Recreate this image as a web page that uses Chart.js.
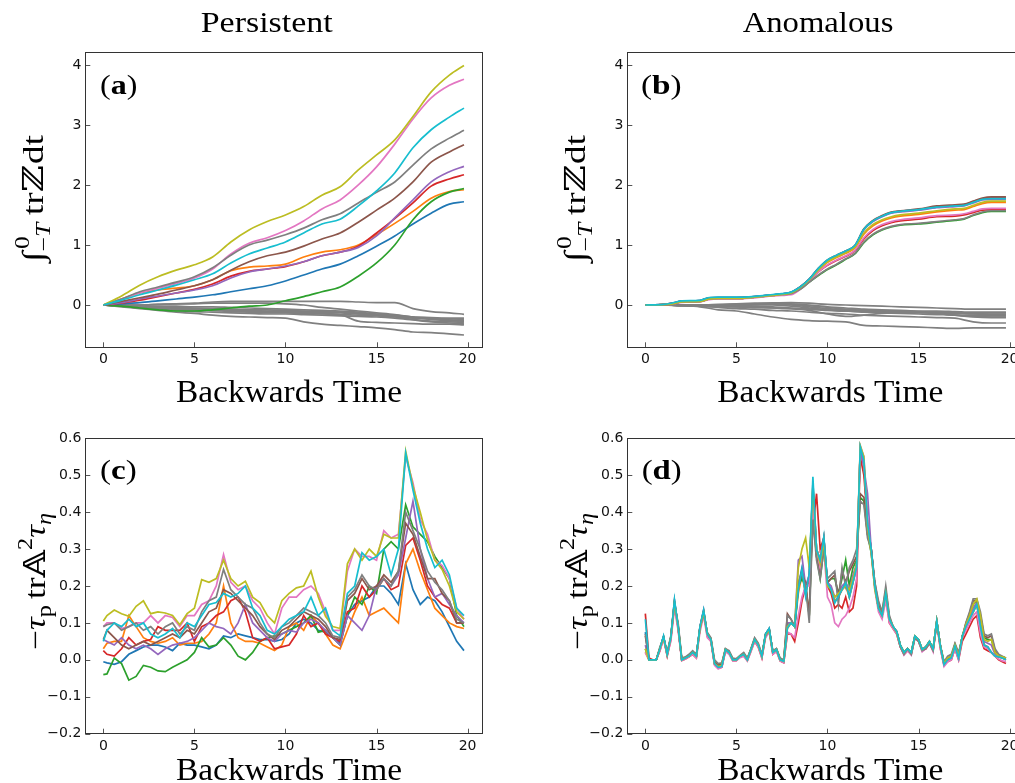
<!DOCTYPE html>
<html><head><meta charset="utf-8">
<script src="https://cdn.jsdelivr.net/npm/chart.js"></script>
<style>
html,body{margin:0;padding:0;background:#fff;overflow:hidden;width:1015px;height:783px;}
canvas{position:absolute;left:0;top:0;width:1040px;height:783px;}
</style></head><body>
<canvas id="ca" width="1040" height="783"></canvas>
<canvas id="cb" width="1040" height="783"></canvas>
<canvas id="cc" width="1040" height="783"></canvas>
<canvas id="cd" width="1040" height="783"></canvas>
<script>
// ---------- tick values / labels ----------
const xTickVals = [0,5,10,15,20];
const xTickLabels = ['0','5','10','15','20'];
const yTickValsAB = [0,1,2,3,4];
const yTickLabelsAB = ['0','1','2','3','4'];
const yTickValsCD = [-0.2,-0.1,0,0.1,0.2,0.3,0.4,0.5,0.6];
const yTickLabelsCD = ['\u22120.2','\u22120.1','0.0','0.1','0.2','0.3','0.4','0.5','0.6'];

// ---------- panel (a): time grid and series ----------
const xA = [0,1,2,3,4,5,6,7,8,9,10,11,12,13,14,15,16,17,18,19,19.8];
const blueA   = [0,0.02,0.04,0.07,0.1,0.13,0.17,0.22,0.27,0.32,0.4,0.5,0.6,0.68,0.82,0.98,1.15,1.35,1.53,1.68,1.72];
const orangeA = [0,0.1,0.2,0.25,0.28,0.32,0.42,0.57,0.63,0.65,0.68,0.8,0.88,0.92,1.0,1.17,1.36,1.56,1.78,1.89,1.92];
const greenA  = [0,-0.02,-0.05,-0.08,-0.1,-0.1,-0.08,-0.05,-0.02,0.0,0.07,0.14,0.22,0.3,0.48,0.7,1.0,1.42,1.72,1.88,1.94];
const redA    = [0,0.03,0.08,0.14,0.2,0.26,0.35,0.48,0.56,0.6,0.64,0.72,0.82,0.88,0.98,1.2,1.44,1.7,1.98,2.1,2.17];
const purpleA = [0,0.04,0.1,0.15,0.2,0.25,0.32,0.45,0.55,0.6,0.65,0.72,0.82,0.88,0.96,1.15,1.45,1.75,2.05,2.22,2.31];
const brownA  = [0,0.06,0.12,0.18,0.25,0.32,0.42,0.58,0.72,0.82,0.88,0.98,1.1,1.2,1.38,1.58,1.78,2.05,2.38,2.55,2.67];
const pinkA   = [0,0.1,0.2,0.28,0.36,0.45,0.6,0.85,1.03,1.12,1.24,1.4,1.6,1.75,2.0,2.3,2.68,3.1,3.45,3.66,3.76];
const grayA   = [0,0.1,0.22,0.3,0.38,0.47,0.62,0.83,1.0,1.08,1.17,1.28,1.42,1.52,1.7,1.88,2.05,2.33,2.6,2.78,2.91];
const oliveA  = [0,0.15,0.33,0.47,0.58,0.67,0.8,1.05,1.25,1.39,1.5,1.64,1.83,1.97,2.25,2.5,2.75,3.14,3.55,3.83,3.99];
const cyanA   = [0,0.08,0.17,0.25,0.33,0.42,0.52,0.7,0.85,0.95,1.05,1.2,1.35,1.43,1.65,1.9,2.2,2.62,2.92,3.13,3.28];
const greysA = [
 [0,0.0,0.0,0.01,0.02,0.03,0.05,0.06,0.06,0.06,0.06,0.06,0.06,0.06,0.05,0.04,0.04,-0.06,-0.11,-0.13,-0.155],
 [0,-0.03,-0.06,-0.09,-0.12,-0.14,-0.17,-0.19,-0.2,-0.21,-0.22,-0.28,-0.32,-0.34,-0.36,-0.38,-0.41,-0.45,-0.46,-0.48,-0.5],
 [0,-0.02,-0.04,-0.06,-0.07,-0.08,-0.09,-0.1,-0.11,-0.12,-0.12,-0.13,-0.14,-0.16,-0.27,-0.29,-0.3,-0.31,-0.32,-0.32,-0.33],
 [0,-0.01,-0.03,-0.04,-0.05,-0.06,-0.07,-0.08,-0.09,-0.1,-0.1,-0.11,-0.12,-0.12,-0.14,-0.16,-0.18,-0.2,-0.22,-0.23,-0.24],
 [0,-0.02,-0.04,-0.05,-0.07,-0.08,-0.09,-0.11,-0.12,-0.13,-0.13,-0.14,-0.15,-0.16,-0.17,-0.18,-0.2,-0.24,-0.27,-0.28,-0.29],
 [0,-0.01,-0.02,-0.03,-0.04,-0.05,-0.06,-0.07,-0.08,-0.08,-0.09,-0.1,-0.11,-0.12,-0.14,-0.16,-0.18,-0.21,-0.23,-0.25,-0.26],
 [0,-0.02,-0.05,-0.07,-0.09,-0.11,-0.12,-0.13,-0.14,-0.15,-0.15,-0.16,-0.17,-0.18,-0.19,-0.2,-0.22,-0.25,-0.28,-0.3,-0.31],
 [0,-0.01,-0.03,-0.05,-0.06,-0.07,-0.08,-0.09,-0.1,-0.11,-0.11,-0.12,-0.13,-0.13,-0.15,-0.17,-0.19,-0.22,-0.24,-0.26,-0.27],
 [0,0.0,-0.01,-0.02,-0.02,-0.03,-0.03,-0.04,-0.05,-0.06,-0.07,-0.08,-0.09,-0.1,-0.12,-0.15,-0.17,-0.2,-0.21,-0.22,-0.22],
 [0,0,0,0.01,0.02,0.02,0.03,0.03,0.03,0.03,0.02,0.0,-0.04,-0.07,-0.1,-0.13,-0.16,-0.2,-0.23,-0.25,-0.27]
];

// ---------- panel (b) ----------
const xB = [0,1,1.5,2,3,3.5,4,5,6,7,7.5,8,8.5,9,9.5,10,10.5,11,11.5,12,12.5,13,13.5,14,15,16,17,17.5,18,18.5,19,19.8];
const blueB   = [0,0.01,0.03,0.065,0.075,0.12,0.125,0.125,0.14,0.17,0.185,0.21,0.3,0.43,0.61,0.74,0.82,0.9,0.98,1.26,1.4,1.48,1.54,1.56,1.59,1.63,1.66,1.67,1.72,1.77,1.78,1.78];
const orangeB = [0,0.005,0.02,0.05,0.06,0.1,0.11,0.11,0.13,0.16,0.175,0.2,0.29,0.41,0.57,0.71,0.79,0.86,0.95,1.18,1.32,1.4,1.45,1.48,1.51,1.55,1.58,1.59,1.64,1.69,1.71,1.71];
const greenB  = [0,0.005,0.02,0.05,0.06,0.1,0.11,0.11,0.13,0.16,0.175,0.19,0.26,0.38,0.49,0.59,0.67,0.76,0.85,1.04,1.17,1.25,1.3,1.33,1.35,1.38,1.41,1.43,1.49,1.54,1.56,1.56];
const redB    = [0,0.005,0.02,0.05,0.06,0.1,0.11,0.11,0.13,0.16,0.175,0.19,0.27,0.4,0.55,0.66,0.74,0.81,0.9,1.1,1.24,1.32,1.37,1.4,1.43,1.47,1.48,1.5,1.54,1.58,1.59,1.59];
const purpleB = [0,0.01,0.03,0.065,0.075,0.12,0.125,0.125,0.14,0.17,0.185,0.21,0.3,0.43,0.6,0.74,0.82,0.89,0.98,1.25,1.39,1.47,1.53,1.55,1.58,1.62,1.64,1.65,1.7,1.75,1.76,1.76];
const brownB  = [0,0.01,0.03,0.065,0.075,0.12,0.125,0.125,0.14,0.17,0.185,0.21,0.3,0.43,0.61,0.75,0.83,0.9,0.99,1.27,1.41,1.49,1.55,1.57,1.6,1.65,1.67,1.68,1.73,1.78,1.8,1.8];
const pinkB   = [0,0.005,0.015,0.045,0.055,0.09,0.1,0.1,0.12,0.15,0.16,0.17,0.26,0.39,0.55,0.67,0.75,0.82,0.91,1.12,1.26,1.34,1.39,1.42,1.45,1.49,1.5,1.52,1.56,1.6,1.61,1.61];
const grayB   = [0,0.005,0.02,0.05,0.06,0.1,0.11,0.11,0.13,0.16,0.175,0.19,0.26,0.38,0.5,0.6,0.68,0.77,0.86,1.05,1.18,1.26,1.31,1.34,1.36,1.39,1.42,1.44,1.5,1.55,1.57,1.57];
const oliveB  = [0,0.005,0.02,0.05,0.06,0.1,0.11,0.11,0.13,0.16,0.175,0.2,0.29,0.42,0.58,0.72,0.8,0.87,0.96,1.2,1.34,1.42,1.47,1.5,1.53,1.57,1.6,1.61,1.66,1.71,1.73,1.73];
const cyanB   = [0,0.01,0.035,0.07,0.078,0.125,0.13,0.13,0.145,0.175,0.19,0.215,0.3,0.43,0.61,0.75,0.83,0.9,0.99,1.26,1.4,1.48,1.54,1.56,1.59,1.63,1.65,1.66,1.71,1.76,1.77,1.77];
const greysB = [
 [0,0,0,0,0.01,0.02,0.03,0.035,0.04,0.03,0.01,0.0,-0.01,-0.02,-0.03,-0.04,-0.05,-0.06,-0.07,-0.07,-0.07],
 [0,0,-0.01,-0.01,0.0,0.01,0.02,0.03,0.02,0.0,-0.03,-0.05,-0.07,-0.08,-0.09,-0.1,-0.1,-0.11,-0.12,-0.12,-0.12],
 [0,0,0,-0.01,-0.01,0.0,0.01,0.0,-0.02,-0.05,-0.08,-0.1,-0.1,-0.1,-0.11,-0.12,-0.13,-0.14,-0.15,-0.15,-0.15],
 [0,0,-0.01,-0.02,-0.02,-0.02,-0.02,-0.03,-0.05,-0.07,-0.09,-0.1,-0.11,-0.12,-0.12,-0.13,-0.14,-0.17,-0.18,-0.18,-0.18],
 [0,0,0,0,-0.01,-0.01,0.0,0.01,0.0,-0.03,-0.06,-0.08,-0.09,-0.1,-0.11,-0.12,-0.14,-0.17,-0.19,-0.2,-0.2],
 [0,0,-0.01,-0.02,-0.03,-0.03,-0.04,-0.05,-0.06,-0.09,-0.15,-0.19,-0.17,-0.14,-0.13,-0.12,-0.12,-0.13,-0.15,-0.16,-0.16],
 [0,0,-0.01,-0.02,-0.04,-0.06,-0.07,-0.09,-0.1,-0.12,-0.14,-0.15,-0.17,-0.18,-0.19,-0.2,-0.21,-0.22,-0.28,-0.3,-0.3],
 [0,0,-0.01,-0.03,-0.08,-0.1,-0.15,-0.2,-0.24,-0.26,-0.27,-0.28,-0.34,-0.35,-0.36,-0.37,-0.38,-0.39,-0.38,-0.38,-0.38],
 [0,0,0,-0.01,-0.02,-0.03,-0.04,-0.05,-0.06,-0.07,-0.08,-0.1,-0.12,-0.13,-0.14,-0.15,-0.16,-0.17,-0.2,-0.21,-0.21],
 [0,0,0,0,0.0,0.01,0.02,0.02,0.01,-0.01,-0.04,-0.07,-0.09,-0.1,-0.1,-0.11,-0.12,-0.12,-0.14,-0.13,-0.13]
];

// ---------- panel (c) ----------
const xC = [0,0.2,0.6,1.0,1.4,1.8,2.2,2.6,3.0,3.4,3.8,4.2,4.6,5.0,5.4,5.8,6.2,6.6,7.0,7.4,7.8,8.2,8.6,9.0,9.4,9.8,10.2,10.6,11.0,11.4,11.8,12.2,12.6,13.0,13.4,13.8,14.2,14.6,15.0,15.4,15.8,16.2,16.6,17.0,17.4,17.8,18.2,18.6,19.0,19.4,19.8];
const blueC   = [-0.005,-0.008,-0.012,-0.005,0.015,0.025,0.035,0.04,0.04,0.035, 0.025,0.045,0.04,0.04,0.035,0.03,0.04,0.065,0.06,0.07, 0.065,0.06,0.055,0.055,0.05,0.055,0.07,0.1,0.11,0.1, 0.08,0.075,0.06,0.045,0.12,0.15,0.16,0.17,0.2,0.2, 0.18,0.15,0.26,0.19,0.15,0.17,0.16,0.13,0.09,0.05, 0.025];
const orangeC = [0.03,0.045,0.05,0.05,0.12,0.09,0.06,0.05,0.045,0.05, 0.06,0.04,0.045,0.045,0.05,0.07,0.1,0.2,0.1,0.06, 0.05,0.05,0.045,0.035,0.025,0.04,0.09,0.1,0.08,0.12, 0.1,0.07,0.04,0.03,0.08,0.13,0.17,0.12,0.13,0.14, 0.12,0.1,0.26,0.3,0.24,0.19,0.14,0.12,0.1,0.09, 0.085];
const greenC  = [-0.04,-0.038,0.005,-0.01,-0.055,-0.045,-0.015,-0.02,-0.03,-0.032, -0.02,-0.01,0.0,0.02,0.06,0.035,0.04,0.06,0.04,0.01, 0.0,0.02,0.05,0.06,0.065,0.07,0.08,0.09,0.1,0.12, 0.075,0.08,0.06,0.04,0.12,0.17,0.15,0.2,0.18,0.3, 0.32,0.3,0.42,0.36,0.34,0.32,0.28,0.25,0.22,0.12, 0.09];
const redC    = [0.025,0.015,0.01,0.03,0.06,0.04,0.05,0.055,0.09,0.08, 0.08,0.08,0.1,0.05,0.09,0.1,0.12,0.13,0.16,0.17, 0.13,0.06,0.05,0.06,0.03,0.035,0.04,0.07,0.12,0.09, 0.1,0.07,0.06,0.05,0.13,0.14,0.2,0.17,0.19,0.22, 0.19,0.2,0.31,0.33,0.27,0.2,0.17,0.15,0.14,0.1, 0.1];
const purpleC = [0.055,0.05,0.04,0.06,0.04,0.03,0.04,0.03,0.015,0.03, 0.04,0.045,0.05,0.06,0.08,0.1,0.09,0.085,0.07,0.1, 0.15,0.1,0.08,0.06,0.05,0.07,0.08,0.075,0.1,0.11, 0.1,0.08,0.06,0.04,0.12,0.1,0.08,0.12,0.2,0.22, 0.2,0.23,0.33,0.43,0.3,0.22,0.17,0.18,0.15,0.12, 0.1];
const brownC  = [0.055,0.08,0.06,0.04,0.03,0.04,0.05,0.04,0.05,0.06, 0.07,0.06,0.08,0.07,0.1,0.13,0.14,0.19,0.18,0.16, 0.14,0.12,0.09,0.07,0.055,0.08,0.09,0.11,0.13,0.12, 0.11,0.09,0.06,0.055,0.16,0.18,0.22,0.19,0.2,0.23, 0.21,0.24,0.37,0.34,0.28,0.22,0.22,0.18,0.16,0.1, 0.1];
const pinkC   = [0.09,0.1,0.1,0.085,0.09,0.1,0.1,0.12,0.1,0.12, 0.115,0.09,0.12,0.12,0.15,0.16,0.2,0.285,0.21,0.19, 0.2,0.16,0.14,0.1,0.07,0.14,0.17,0.17,0.19,0.2, 0.18,0.13,0.08,0.08,0.24,0.3,0.28,0.28,0.27,0.35, 0.33,0.34,0.55,0.48,0.38,0.34,0.27,0.255,0.22,0.14, 0.11];
const grayC   = [0.09,0.095,0.1,0.08,0.09,0.1,0.08,0.09,0.07,0.09, 0.1,0.07,0.09,0.08,0.13,0.16,0.17,0.245,0.19,0.17, 0.15,0.14,0.1,0.07,0.06,0.09,0.1,0.12,0.14,0.13, 0.12,0.1,0.065,0.06,0.17,0.19,0.23,0.2,0.19,0.22, 0.2,0.24,0.4,0.35,0.3,0.24,0.21,0.19,0.16,0.11, 0.1];
const oliveC  = [0.105,0.12,0.135,0.125,0.118,0.145,0.16,0.125,0.13,0.127, 0.12,0.095,0.125,0.14,0.217,0.21,0.22,0.27,0.22,0.2, 0.213,0.17,0.155,0.12,0.1,0.16,0.18,0.195,0.2,0.24, 0.17,0.118,0.09,0.085,0.26,0.3,0.27,0.3,0.28,0.34, 0.33,0.33,0.565,0.47,0.4,0.325,0.27,0.245,0.2,0.13, 0.11];
const cyanC   = [0.05,0.08,0.1,0.09,0.11,0.09,0.1,0.07,0.06,0.07, 0.085,0.06,0.1,0.09,0.12,0.15,0.155,0.18,0.17,0.18, 0.2,0.14,0.12,0.08,0.07,0.09,0.11,0.12,0.13,0.17, 0.12,0.14,0.08,0.065,0.18,0.2,0.29,0.27,0.28,0.3, 0.23,0.3,0.56,0.46,0.37,0.3,0.25,0.27,0.23,0.14, 0.12];

// ---------- panel (d) ----------
const xD = [0,0.2,0.4,0.6,0.8,1,1.2,1.4,1.6,1.8,2,2.2,2.4,2.6,2.8,3,3.2,3.4,3.6,3.8,4,4.2,4.4,4.6,4.8,5,5.2,5.4,5.6,5.8,6,6.2,6.4,6.6,6.8,7,7.2,7.4,7.6,7.8,8,8.2,8.4,8.6,8.8,9,9.2,9.4,9.6,9.8,10,10.2,10.4,10.6,10.8,11,11.2,11.4,11.6,11.8,12,12.2,12.4,12.6,12.8,13,13.2,13.4,13.6,13.8,14,14.2,14.4,14.6,14.8,15,15.2,15.4,15.6,15.8,16,16.2,16.4,16.6,16.8,17,17.2,17.4,17.6,17.8,18,18.2,18.4,18.6,18.8,19,19.2,19.4,19.6,19.8];
const blueD = [0.075,0.0,0.0,0.0,0.03,0.063,0.015,0.06,0.16,0.09,
 0.0,0.005,0.01,0.02,0.01,0.088,0.133,0.07,0.055,-0.01,
 -0.02,-0.018,0.028,0.02,0.0,0.0,0.01,0.015,0.0,0.028,
 0.055,0.04,0.01,0.07,0.085,0.02,0.028,0.0,-0.004,0.09,
 0.1,0.09,0.2,0.25,0.18,0.23,0.48,0.3,0.27,0.33,
 0.21,0.19,0.16,0.17,0.19,0.21,0.17,0.21,0.25,0.57,
 0.53,0.37,0.3,0.2,0.14,0.12,0.18,0.11,0.09,0.077,
 0.04,0.02,0.03,0.02,0.064,0.055,0.028,0.035,0.05,0.03,
 0.105,0.037,-0.013,0.0,0.005,0.037,0.005,0.064,0.09,0.11,
 0.13,0.15,0.09,0.04,0.035,0.02,0.01,0.008,0.005,0.0];
const orangeD = [0.02,0.0,0.0,0.0,0.028,0.06,0.013,0.058,0.155,0.088,
 0.0,0.004,0.009,0.018,0.009,0.085,0.13,0.068,0.053,-0.012,
 -0.02,-0.017,0.026,0.019,0.0,0.0,0.009,0.014,0.0,0.026,
 0.053,0.038,0.009,0.068,0.083,0.019,0.027,0.0,-0.005,0.085,
 0.1,0.09,0.18,0.23,0.18,0.23,0.47,0.3,0.27,0.33,
 0.2,0.19,0.16,0.17,0.19,0.2,0.17,0.21,0.25,0.57,
 0.53,0.37,0.3,0.2,0.14,0.12,0.18,0.11,0.09,0.077,
 0.04,0.02,0.03,0.02,0.064,0.055,0.028,0.035,0.05,0.03,
 0.105,0.037,-0.012,0.0,0.005,0.037,0.005,0.064,0.09,0.11,
 0.13,0.15,0.09,0.04,0.035,0.02,0.01,0.008,0.005,0.0];
const greenD = [0.03,0.0,0.0,0.0,0.03,0.062,0.015,0.06,0.155,0.09,
 0.0,0.005,0.01,0.02,0.01,0.088,0.13,0.07,0.055,-0.008,
 -0.015,-0.012,0.028,0.02,0.002,0.002,0.01,0.015,0.002,0.028,
 0.055,0.04,0.01,0.07,0.085,0.02,0.028,0.0,0.0,0.1,
 0.1,0.09,0.2,0.22,0.2,0.12,0.4,0.28,0.22,0.3,
 0.21,0.22,0.22,0.18,0.22,0.27,0.2,0.25,0.27,0.44,
 0.43,0.34,0.29,0.2,0.14,0.12,0.18,0.11,0.09,0.075,
 0.04,0.02,0.03,0.02,0.064,0.055,0.028,0.035,0.05,0.03,
 0.105,0.037,-0.008,0.003,0.008,0.04,0.012,0.062,0.095,0.12,
 0.15,0.16,0.11,0.06,0.055,0.055,0.02,0.012,0.008,0.005];
const redD = [0.125,0.005,0.0,0.0,0.025,0.06,0.01,0.055,0.15,0.085,
 -0.002,0.002,0.008,0.015,0.005,0.085,0.13,0.065,0.05,-0.012,
 -0.022,-0.02,0.025,0.018,-0.002,-0.002,0.008,0.012,-0.002,0.025,
 0.05,0.035,0.005,0.065,0.08,0.015,0.025,-0.003,-0.008,0.07,
 0.07,0.05,0.1,0.16,0.2,0.21,0.36,0.45,0.3,0.33,
 0.2,0.18,0.14,0.15,0.14,0.17,0.13,0.14,0.2,0.55,
 0.5,0.37,0.3,0.2,0.14,0.12,0.17,0.1,0.085,0.07,
 0.035,0.015,0.025,0.015,0.06,0.05,0.025,0.03,0.045,0.025,
 0.1,0.03,-0.015,-0.005,0.0,0.03,0.0,0.05,0.07,0.09,
 0.11,0.12,0.06,0.03,0.025,0.02,0.01,0.0,-0.005,-0.01];
const purpleD = [0.04,0.0,0.0,0.0,0.03,0.062,0.015,0.062,0.16,0.09,
 0.0,0.005,0.01,0.02,0.01,0.09,0.135,0.07,0.055,-0.01,
 -0.02,-0.018,0.028,0.02,0.0,0.0,0.01,0.015,0.0,0.028,
 0.055,0.04,0.01,0.07,0.085,0.02,0.028,0.0,-0.004,0.1,
 0.1,0.09,0.27,0.28,0.2,0.23,0.45,0.3,0.27,0.33,
 0.21,0.2,0.17,0.18,0.2,0.21,0.19,0.23,0.26,0.57,
 0.52,0.45,0.3,0.2,0.14,0.12,0.18,0.11,0.09,0.077,
 0.04,0.02,0.03,0.02,0.064,0.055,0.028,0.035,0.05,0.03,
 0.105,0.037,-0.01,0.0,0.005,0.04,0.008,0.064,0.09,0.115,
 0.14,0.155,0.1,0.05,0.045,0.04,0.015,0.01,0.006,0.003];
const brownD = [0.065,0.0,0.0,0.0,0.032,0.062,0.018,0.062,0.155,0.095,
 0.003,0.006,0.012,0.022,0.012,0.088,0.13,0.072,0.058,-0.005,
 -0.015,-0.012,0.03,0.022,0.003,0.002,0.011,0.018,0.003,0.03,
 0.058,0.042,0.012,0.068,0.082,0.022,0.03,0.003,-0.002,0.125,
 0.11,0.09,0.2,0.23,0.21,0.12,0.42,0.28,0.23,0.31,
 0.21,0.22,0.23,0.17,0.24,0.21,0.24,0.26,0.28,0.45,
 0.44,0.34,0.3,0.21,0.15,0.13,0.19,0.115,0.09,0.075,
 0.037,0.017,0.03,0.017,0.062,0.052,0.026,0.032,0.047,0.027,
 0.102,0.038,-0.01,0.005,0.01,0.042,0.012,0.062,0.1,0.125,
 0.16,0.16,0.12,0.065,0.06,0.065,0.025,0.012,0.008,0.004];
const pinkD = [0.02,0.0,0.0,0.0,0.025,0.055,0.012,0.05,0.14,0.08,
 -0.002,0.002,0.008,0.015,0.005,0.075,0.12,0.06,0.05,-0.015,
 -0.025,-0.02,0.022,0.015,-0.003,-0.002,0.006,0.01,-0.003,0.022,
 0.05,0.035,0.005,0.06,0.075,0.015,0.022,-0.003,-0.008,0.075,
 0.07,0.06,0.12,0.17,0.2,0.2,0.42,0.3,0.25,0.3,
 0.17,0.15,0.1,0.09,0.11,0.12,0.14,0.17,0.22,0.58,
 0.55,0.37,0.29,0.19,0.13,0.11,0.16,0.1,0.085,0.07,
 0.035,0.013,0.025,0.013,0.058,0.05,0.022,0.03,0.045,0.022,
 0.1,0.03,-0.018,-0.005,0.0,0.03,0.0,0.06,0.08,0.1,
 0.12,0.13,0.07,0.035,0.03,0.02,0.01,0.002,-0.003,-0.005];
const grayD = [0.07,0.0,0.0,0.0,0.035,0.06,0.02,0.065,0.15,0.1,
 0.005,0.008,0.015,0.025,0.015,0.085,0.125,0.075,0.06,0.0,
 -0.01,-0.008,0.03,0.025,0.005,0.003,0.012,0.02,0.005,0.03,
 0.06,0.045,0.015,0.065,0.08,0.025,0.03,0.005,0.0,0.12,
 0.11,0.09,0.21,0.24,0.2,0.1,0.38,0.27,0.22,0.3,
 0.22,0.23,0.24,0.15,0.25,0.2,0.25,0.27,0.3,0.43,
 0.42,0.33,0.3,0.21,0.16,0.13,0.2,0.12,0.09,0.075,
 0.035,0.015,0.03,0.015,0.06,0.05,0.025,0.03,0.045,0.025,
 0.1,0.04,-0.005,0.01,0.015,0.045,0.02,0.06,0.1,0.13,
 0.165,0.165,0.13,0.07,0.065,0.07,0.03,0.015,0.01,0.005];
const oliveD = [0.03,0.0,0.0,0.0,0.03,0.06,0.015,0.06,0.155,0.09,
 0.0,0.005,0.01,0.02,0.01,0.085,0.13,0.07,0.055,-0.01,
 -0.018,-0.015,0.028,0.02,0.0,0.0,0.01,0.015,0.0,0.028,
 0.055,0.04,0.01,0.068,0.08,0.02,0.028,0.0,-0.004,0.09,
 0.1,0.09,0.25,0.3,0.33,0.25,0.47,0.3,0.26,0.32,
 0.2,0.19,0.17,0.18,0.19,0.2,0.19,0.22,0.26,0.58,
 0.55,0.36,0.29,0.19,0.14,0.12,0.18,0.11,0.09,0.075,
 0.04,0.02,0.03,0.02,0.064,0.055,0.028,0.035,0.05,0.03,
 0.105,0.037,-0.01,0.005,0.01,0.04,0.01,0.064,0.095,0.12,
 0.15,0.165,0.12,0.055,0.05,0.055,0.02,0.01,0.008,0.005];
const cyanD = [0.11,0.0,0.0,0.0,0.03,0.065,0.015,0.06,0.163,0.09,
 0.0,0.005,0.01,0.02,0.01,0.09,0.135,0.07,0.055,-0.01,
 -0.02,-0.018,0.028,0.02,0.0,0.0,0.01,0.015,0.0,0.028,
 0.055,0.04,0.01,0.07,0.085,0.02,0.028,0.0,-0.004,0.086,
 0.1,0.09,0.19,0.244,0.172,0.235,0.496,0.298,0.27,0.334,
 0.208,0.19,0.154,0.172,0.19,0.208,0.17,0.21,0.25,0.577,
 0.54,0.37,0.3,0.2,0.14,0.12,0.18,0.11,0.09,0.077,
 0.04,0.02,0.03,0.02,0.064,0.055,0.028,0.035,0.05,0.03,
 0.105,0.037,-0.013,0.0,0.005,0.037,0.005,0.064,0.09,0.11,
 0.13,0.15,0.09,0.04,0.035,0.02,0.01,0.008,0.005,0.0];

// ---------- styling ----------
const TAB = ['#1f77b4','#ff7f0e','#2ca02c','#d62728','#9467bd','#8c564b','#e377c2','#7f7f7f','#bcbd22','#17becf'];
const GREY = '#808080';
const SERIF = '"Liberation Serif","DejaVu Serif",serif';
const fnt = (sz, st) => (st ? st + ' ' : '') + sz + 'px ' + SERIF;

function xy(xs, ys){ return xs.map((x,i)=>({x:x, y:ys[i]})); }
function ds(xs, ys, color, smooth){
  return {data: xy(xs, ys), borderColor: color, backgroundColor: color, borderWidth: 1.7,
          pointRadius: 0, fill: false, tension: smooth ? 0.4 : 0,
          cubicInterpolationMode: smooth ? 'monotone' : 'default'};
}

function rich(ctx, segs, cx, by, len, rot){
  ctx.save();
  ctx.fillStyle = '#000'; ctx.textBaseline = 'alphabetic'; ctx.textAlign = 'left';
  let tot = 0;
  const w = segs.map(s => { ctx.font = s.f; const m = ctx.measureText(s.t).width; if (s.adv !== false) tot += m + (s.gap||0); return m; });
  ctx.translate(cx, by);
  if (rot) ctx.rotate(-Math.PI/2);
  const k = len ? len / tot : 1;
  ctx.scale(k, 1);
  let x = -tot/2;
  segs.forEach((s,i) => { ctx.font = s.f; ctx.fillText(s.t, x + (s.dx||0), s.dy||0); if (s.adv !== false) x += w[i] + (s.gap||0); });
  ctx.restore();
}

const decoPlugin = {
  id: 'deco',
  afterDraw(chart, args, o){
    const ctx = chart.ctx, ca = chart.chartArea;
    const xs = chart.scales.x, ys = chart.scales.y;
    ctx.save();
    ctx.strokeStyle = '#555'; ctx.lineWidth = 1;
    ctx.beginPath();
    xs.ticks.forEach(t => { const p = Math.round(xs.getPixelForValue(t.value)) + 0.5; ctx.moveTo(p, ca.bottom); ctx.lineTo(p, ca.bottom - 5); });
    ys.ticks.forEach(t => { const p = Math.round(ys.getPixelForValue(t.value)) + 0.5; ctx.moveTo(ca.left, p); ctx.lineTo(ca.left + 5, p); });
    ctx.stroke();
    ctx.strokeStyle = '#333';
    ctx.strokeRect(Math.round(ca.left) + 0.5, Math.round(ca.top) + 0.5, Math.round(ca.right - ca.left), Math.round(ca.bottom - ca.top));
    ctx.restore();
    if (o.title) rich(ctx, [{t:o.title, f:fnt(29)}], o.titleX, 32.3, o.titleW, false);
    rich(ctx, [{t:'(', f:fnt(28)}, {t:o.letter, f:fnt(28,'bold')}, {t:')', f:fnt(28)}], o.panelX, o.panelY, o.panelW, false);
    rich(ctx, o.ylab, o.ylabX, o.ylabY, o.ylabLen, true);
    rich(ctx, [{t:'Backwards Time', f:fnt(31)}], o.xlabX, o.xlabY, 226, false);
  }
};

const ylabAB = [
  {t:'\u222B', f:fnt(30)},
  {t:'0', f:fnt(20), dy:-14, dx:2, adv:false},
  {t:'\u2212', f:fnt(20), dy:7},
  {t:'T', f:fnt(20,'italic'), dy:7, gap:6},
  {t:'tr', f:fnt(29)},
  {t:'\u2124', f:fnt(29), gap:1},
  {t:'dt', f:fnt(29)}
];
const ylabCD = [
  {t:'\u2212', f:fnt(29)},
  {t:'\u03C4', f:fnt(29,'italic')},
  {t:'p', f:fnt(20), dy:6, gap:5},
  {t:'tr', f:fnt(29)},
  {t:'\uD835\uDD38', f:fnt(29)},
  {t:'2', f:fnt(20), dy:-13},
  {t:'\u03C4', f:fnt(29,'italic')},
  {t:'\u03B7', f:fnt(20,'italic'), dy:6}
];

function build(id, pad, yMin, yMax, yVals, yLabs, datasets, deco){
  new Chart(document.getElementById(id), {
    type: 'line',
    data: {datasets: datasets},
    options: {
      responsive: false, animation: false, devicePixelRatio: 1,
      layout: {padding: pad},
      plugins: {legend: {display: false}, tooltip: {enabled: false}, deco: deco},
      scales: {
        x: {type: 'linear', min: -0.99, max: 20.79, bounds: 'data',
            grid: {display: false, drawTicks: false}, border: {display: false},
            afterBuildTicks: s => { s.ticks = xTickVals.map(v => ({value: v})); },
            afterFit: s => { s.height = 30; },
            ticks: {autoSkip: false, maxRotation: 0, minRotation: 0, padding: 4, color: '#111',
                    font: {family: 'DejaVu Sans', size: 14}, callback: (v, i) => xTickLabels[i]}},
        y: {type: 'linear', min: yMin, max: yMax, bounds: 'data',
            grid: {display: false, drawTicks: false}, border: {display: false},
            afterBuildTicks: s => { s.ticks = yVals.map(v => ({value: v})); },
            afterFit: s => { s.width = 40; },
            ticks: {autoSkip: false, padding: 4, color: '#111',
                    font: {family: 'DejaVu Sans', size: 14}, callback: (v, i) => yLabs[i]}}
      }
    },
    plugins: [decoPlugin]
  });
}

// matplotlib draws later series on top; Chart.js draws first dataset on top -> reverse
const colA = [blueA,orangeA,greenA,redA,purpleA,brownA,pinkA,grayA,oliveA,cyanA];
const colB = [blueB,orangeB,greenB,redB,purpleB,brownB,pinkB,grayB,oliveB,cyanB];
const colC = [blueC,orangeC,greenC,redC,purpleC,brownC,pinkC,grayC,oliveC,cyanC];
const colD = [blueD,orangeD,greenD,redD,purpleD,brownD,pinkD,grayD,oliveD,cyanD];

const dsA = greysA.map(g => ds(xA, g, GREY, true)).concat(colA.map((s,i) => ds(xA, s, TAB[i], true))).reverse();
const dsB = greysB.map(g => ds(xA, g, GREY, true)).concat(colB.map((s,i) => ds(xB, s, TAB[i], true))).reverse();
const dsC = colC.map((s,i) => ds(xC, s, TAB[i], false)).reverse();
const dsD = colD.map((s,i) => ds(xD, s, TAB[i], false)).reverse();

build('ca', {left:45.3, top:52.3, right:558, bottom:405.7}, -0.705, 4.21, yTickValsAB, yTickLabelsAB, dsA,
  {title:'Persistent', titleX:266.7, titleW:132, letter:'a', panelX:118.7, panelY:94.3, panelW:37.3,
   ylab: ylabAB, ylabX:43, ylabY:198.5, ylabLen:127, xlabX:289, xlabY:402});
build('cb', {left:587.3, top:52.3, right:16, bottom:405.7}, -0.705, 4.21, yTickValsAB, yTickLabelsAB, dsB,
  {title:'Anomalous', titleX:818, titleW:150.7, letter:'b', panelX:661.3, panelY:94.3, panelW:40.7,
   ylab: ylabAB, ylabX:585, ylabY:198.5, ylabLen:127, xlabX:830.3, xlabY:402});
build('cc', {left:45.3, top:438.3, right:558, bottom:19.3}, -0.2, 0.6, yTickValsCD, yTickLabelsCD, dsC,
  {title:null, letter:'c', panelX:118.3, panelY:479, panelW:36.7,
   ylab: ylabCD, ylabX:45, ylabY:581.5, ylabLen:137, xlabX:289, xlabY:779.5});
build('cd', {left:587.3, top:438.3, right:16, bottom:19.3}, -0.2, 0.6, yTickValsCD, yTickLabelsCD, dsD,
  {title:null, letter:'d', panelX:661.7, panelY:479, panelW:40,
   ylab: ylabCD, ylabX:587, ylabY:581.5, ylabLen:137, xlabX:830.3, xlabY:779.5});
</script>
</body></html>
